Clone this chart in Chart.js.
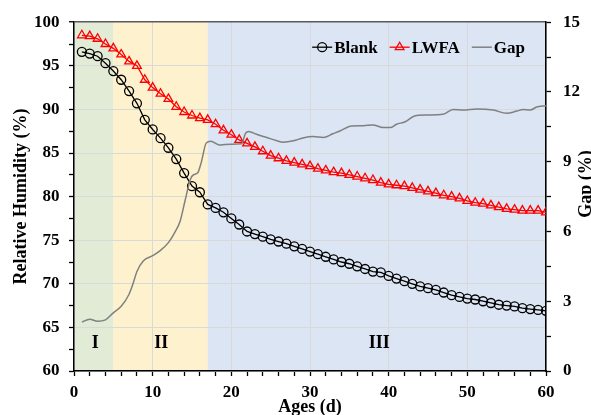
<!DOCTYPE html>
<html>
<head>
<meta charset="utf-8">
<title>Relative humidity and gap</title>
<script src="https://cdn.jsdelivr.net/npm/chart.js@4.4.1/dist/chart.umd.min.js"></script>
<style>
  html, body { margin: 0; padding: 0; background: #fff; }
  #wrap { width: 591px; height: 415px; }
</style>
</head>
<body>
<div id="wrap"><canvas id="humidityChart" width="591" height="415"></canvas></div>
<script>
const days = [1, 2, 3, 4, 5, 6, 7, 8, 9, 10, 11, 12, 13, 14, 15, 16, 17, 18, 19, 20,
  21, 22, 23, 24, 25, 26, 27, 28, 29, 30, 31, 32, 33, 34, 35, 36, 37, 38, 39, 40,
  41, 42, 43, 44, 45, 46, 47, 48, 49, 50, 51, 52, 53, 54, 55, 56, 57, 58, 59, 60];

const blank = [96.6, 96.4, 96.1, 95.3, 94.4, 93.4, 92.1, 90.7, 88.8, 87.7,
  86.7, 85.6, 84.3, 82.7, 81.2, 80.5, 79.1, 78.7, 78.2, 77.5,
  76.8, 76.0, 75.7, 75.4, 75.1, 74.85, 74.6, 74.3, 74.0, 73.7,
  73.4, 73.1, 72.8, 72.5, 72.3, 72.0, 71.7, 71.4, 71.3, 70.9,
  70.6, 70.3, 70.0, 69.7, 69.5, 69.3, 69.0, 68.7, 68.5, 68.3,
  68.2, 68.0, 67.8, 67.6, 67.5, 67.4, 67.2, 67.1, 67.0, 66.9];

const lwfa = [98.5, 98.4, 98.1, 97.5, 97.0, 96.3, 95.5, 95.0, 93.4, 92.5,
  91.8, 91.2, 90.3, 89.7, 89.3, 89.0, 88.8, 88.3, 87.6, 87.1,
  86.5, 86.1, 85.7, 85.2, 84.7, 84.4, 84.1, 83.9, 83.7, 83.5,
  83.2, 83.0, 82.8, 82.7, 82.5, 82.3, 82.1, 81.9, 81.6, 81.4,
  81.3, 81.2, 81.0, 80.8, 80.6, 80.4, 80.15, 80.0, 79.8, 79.5,
  79.3, 79.2, 79.0, 78.8, 78.6, 78.5, 78.4, 78.4, 78.4, 78.2];

// gap is logged more often than the daily humidity readings
const gapDays = [1, 2, 3, 4, 5, 6, 7, 7.5, 8, 8.8, 10, 11, 12, 12.8, 13.5, 14.1, 14.8,
  15.2, 15.7, 16.2, 16.8, 17.4, 18.5, 19.2, 20, 21.3, 21.8, 22.2, 23.2, 24.5, 25.8,
  26.6, 27.9, 29.1, 30.4, 31.7, 32.9, 33.8, 35.3, 36.8, 38, 39.3, 40.2, 41, 42.1,
  43.3, 44.8, 46.9, 48.2, 49.5, 51.2, 53.3, 55, 56.3, 57.1, 58, 58.8, 60];
const gapValues = [2.10, 2.23, 2.14, 2.20, 2.50, 2.78, 3.30, 3.75, 4.28, 4.73, 4.96,
  5.19, 5.52, 5.95, 6.45, 7.30, 8.25, 8.44, 8.51, 9.00, 9.80, 9.88, 9.72, 9.74, 9.75,
  9.77, 10.22, 10.30, 10.18, 10.04, 9.90, 9.84, 9.90, 10.02, 10.08, 10.04, 10.20,
  10.32, 10.54, 10.55, 10.58, 10.47, 10.47, 10.61, 10.72, 10.97, 11.01, 11.04, 11.25,
  11.22, 11.27, 11.22, 11.08, 11.18, 11.25, 11.22, 11.35, 11.41];

const stageNames = ['I', 'II', 'III'];
const stageStart = [0, 5, 17];
const stageEnd = [5, 17, 60];
const stageColors = ['#e2ebd6', '#fef1cd', '#dbe5f3'];
const stageLabelDay = [2.7, 11.1, 38.8];
const stageLabelLevel = 63.2;

const serif = '"Liberation Serif", "Times New Roman", serif';
Chart.defaults.font.family = serif;
Chart.defaults.font.weight = 'bold';
Chart.defaults.color = '#000';

const toPoints = (xs, ys) => xs.map((x, i) => ({ x: x, y: ys[i] }));

// coloured stage bands under the grid, stage numerals on top
const stagePlugin = {
  id: 'stages',
  beforeDraw(chart) {
    const { ctx, chartArea, scales } = chart;
    ctx.save();
    stageStart.forEach((s, i) => {
      const x0 = scales.x.getPixelForValue(s);
      const x1 = scales.x.getPixelForValue(stageEnd[i]);
      ctx.fillStyle = stageColors[i];
      ctx.fillRect(x0, chartArea.top, x1 - x0, chartArea.bottom - chartArea.top);
    });
    ctx.restore();
  },
  afterDraw(chart) {
    const { ctx, scales } = chart;
    ctx.save();
    ctx.font = 'bold 18px ' + serif;
    ctx.fillStyle = '#000';
    ctx.textAlign = 'center';
    ctx.textBaseline = 'middle';
    stageNames.forEach((name, i) => {
      ctx.fillText(name, scales.x.getPixelForValue(stageLabelDay[i]), scales.y.getPixelForValue(stageLabelLevel));
    });
    ctx.restore();
  }
};

function drawMarker(ctx, style, x, y, r) {
  ctx.beginPath();
  if (style === 'circle') {
    ctx.arc(x, y, r, 0, Math.PI * 2);
  } else if (style === 'triangle') {
    ctx.moveTo(x, y - r);
    ctx.lineTo(x + r * Math.sqrt(3) / 2, y + r / 2);
    ctx.lineTo(x - r * Math.sqrt(3) / 2, y + r / 2);
    ctx.closePath();
  }
  ctx.stroke();
}

// legend sits inside the plot, top right, line + marker like the series
const legendPlugin = {
  id: 'insideLegend',
  afterDraw(chart) {
    const { ctx, chartArea } = chart;
    const sets = chart.data.datasets;
    const y = chartArea.top + 25;
    const lineLen = 20, textGap = 2, itemGap = 12;
    ctx.save();
    ctx.font = 'bold 17px ' + serif;
    ctx.textBaseline = 'middle';
    const widths = sets.map(d => lineLen + textGap + ctx.measureText(d.label).width);
    let x = chartArea.right - 21 - widths.reduce((a, b) => a + b, 0) - itemGap * (sets.length - 1);
    sets.forEach((d, i) => {
      ctx.strokeStyle = d.borderColor;
      ctx.lineWidth = d.borderWidth;
      ctx.beginPath();
      ctx.moveTo(x, y);
      ctx.lineTo(x + lineLen, y);
      ctx.stroke();
      if (d.pointRadius > 0) {
        ctx.lineWidth = d.pointBorderWidth;
        drawMarker(ctx, d.pointStyle, x + lineLen / 2, y, d.pointRadius);
      }
      ctx.fillStyle = '#000';
      ctx.fillText(d.label, x + lineLen + textGap, y + 1);
      x += widths[i] + itemGap;
    });
    ctx.restore();
  }
};

// right axis title reads bottom to top, like the left one
const rightTitlePlugin = {
  id: 'rightTitle',
  afterDraw(chart) {
    const { ctx } = chart;
    ctx.save();
    ctx.translate(591, 184);
    ctx.rotate(-Math.PI / 2);
    ctx.font = 'bold 18px ' + serif;
    ctx.fillStyle = '#000';
    ctx.textAlign = 'center';
    ctx.textBaseline = 'alphabetic';
    ctx.fillText('Gap (%)', 0, 0);
    ctx.restore();
  }
};

const ctx = document.getElementById('humidityChart').getContext('2d');

new Chart(ctx, {
  type: 'line',
  data: {
    datasets: [
      {
        label: 'Blank',
        data: toPoints(days, blank),
        yAxisID: 'y',
        borderColor: '#000000',
        borderWidth: 1.3,
        pointStyle: 'circle',
        pointRadius: 4.5,
        pointBorderWidth: 1.3,
        pointBorderColor: '#000000',
        pointBackgroundColor: 'rgba(0,0,0,0)',
        order: 1
      },
      {
        label: 'LWFA',
        data: toPoints(days, lwfa),
        yAxisID: 'y',
        borderColor: '#ff0000',
        borderWidth: 1.3,
        pointStyle: 'triangle',
        pointRadius: 5,
        pointBorderWidth: 1.3,
        pointBorderColor: '#ff0000',
        pointBackgroundColor: 'rgba(0,0,0,0)',
        order: 2
      },
      {
        label: 'Gap',
        data: toPoints(gapDays, gapValues),
        yAxisID: 'y1',
        borderColor: '#808080',
        borderWidth: 1.5,
        pointRadius: 0,
        cubicInterpolationMode: 'monotone',
        order: 0
      }
    ]
  },
  options: {
    responsive: false,
    animation: false,
    layout: { padding: { top: 20, left: 0, right: 0, bottom: 0 } },
    plugins: {
      legend: { display: false },
      tooltip: { enabled: false }
    },
    scales: {
      x: {
        type: 'linear',
        min: 0,
        max: 60,
        ticks: {
          stepSize: 2,
          autoSkip: false,
          maxRotation: 0,
          padding: 6,
          font: { size: 17 },
          callback: v => (v % 10 === 0 ? v : '')
        },
        grid: {
          color: c => (c.tick && c.tick.value % 10 === 0 ? '#d9d9d9' : 'rgba(0,0,0,0)'),
          tickColor: '#000',
          tickLength: 5,
          tickWidth: 1.3
        },
        border: { color: '#000', width: 1.5 },
        title: {
          display: true,
          text: 'Ages (d)',
          font: { size: 18, lineHeight: 0.8 },
          padding: 0
        },
        afterFit: s => { s.height = 44; }
      },
      y: {
        position: 'left',
        min: 60,
        max: 100,
        ticks: {
          stepSize: 2.5,
          autoSkip: false,
          padding: 9.5,
          font: { size: 17 },
          callback: v => (v % 5 === 0 ? v : '')
        },
        grid: {
          color: c => {
            if (!c.tick) return 'rgba(0,0,0,0)';
            if (c.tick.value === 100) return '#595959';
            return c.tick.value % 5 === 0 ? '#d9d9d9' : 'rgba(0,0,0,0)';
          },
          lineWidth: c => (c.tick && c.tick.value === 100 ? 1.5 : 1),
          tickColor: '#000',
          tickLength: 5,
          tickWidth: 1.3
        },
        border: { color: '#000', width: 1.5 },
        title: {
          display: true,
          text: 'Relative Humidity (%)',
          font: { size: 18, lineHeight: 1.2 },
          padding: { top: 10.7, bottom: 0 }
        },
        afterFit: s => { s.width = 74; }
      },
      y1: {
        position: 'right',
        min: 0,
        max: 15,
        ticks: {
          stepSize: 1.5,
          autoSkip: false,
          padding: 12,
          font: { size: 17 },
          callback: v => (Math.round(v * 2) % 6 === 0 ? Math.round(v) : '')
        },
        grid: {
          drawOnChartArea: false,
          tickColor: '#000',
          tickLength: 5,
          tickWidth: 1.3
        },
        border: { color: '#000', width: 1.5 },
        afterFit: s => { s.width = 45; }
      }
    }
  },
  plugins: [stagePlugin, legendPlugin, rightTitlePlugin]
});
</script>
</body>
</html>
